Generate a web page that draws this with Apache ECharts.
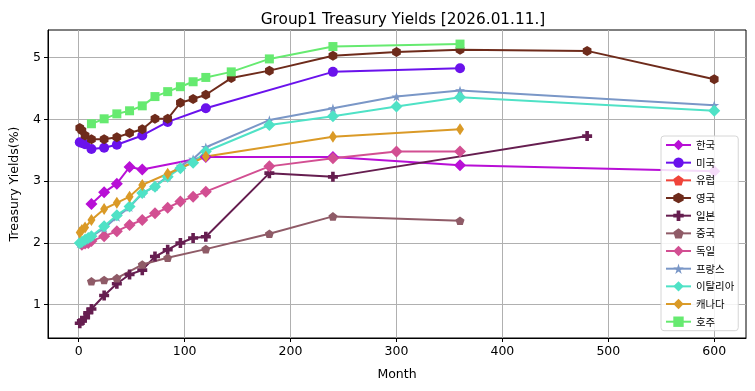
<!DOCTYPE html>
<html>
<head>
<meta charset="utf-8">
<script src="https://cdn.jsdelivr.net/npm/echarts@6/dist/echarts.min.js"></script>
<style>
html,body{margin:0;padding:0;background:#fff;}
#chart{width:755px;height:391px;}
</style>
</head>
<body>
<div id="chart"></div>
<script>
// ---- data ----
const titleText = 'Group1 Treasury Yields [2026.01.11.]';
const xTicks = [0, 100, 200, 300, 400, 500, 600];
const yTicks = [1, 2, 3, 4, 5];

const krMonths = [12, 24, 36, 48, 60, 120, 240, 360, 600];
const krYields = [2.63, 2.82, 2.96, 3.23, 3.19, 3.39, 3.39, 3.26, 3.16];

const usMonths = [1, 3, 6, 12, 24, 36, 60, 84, 120, 240, 360];
const usYields = [3.63, 3.62, 3.60, 3.52, 3.54, 3.59, 3.74, 3.96, 4.18, 4.77, 4.83];

const euMonths = [];
const euYields = [];

const ukMonths = [1, 3, 6, 12, 24, 36, 48, 60, 72, 84, 96, 108, 120, 144, 180, 240, 300, 360, 480, 600];
const ukYields = [3.86, 3.82, 3.74, 3.68, 3.68, 3.71, 3.78, 3.84, 4.01, 4.01, 4.27, 4.33, 4.40, 4.67, 4.79, 5.03, 5.09, 5.13, 5.11, 4.65];

const jpMonths = [1, 3, 6, 9, 12, 24, 36, 48, 60, 72, 84, 96, 108, 120, 180, 240, 480];
const jpYields = [0.70, 0.74, 0.79, 0.87, 0.93, 1.15, 1.34, 1.49, 1.56, 1.78, 1.89, 2.00, 2.08, 2.10, 3.13, 3.07, 3.73];

const cnMonths = [12, 24, 36, 60, 84, 120, 180, 240, 360];
const cnYields = [1.38, 1.40, 1.43, 1.65, 1.76, 1.90, 2.15, 2.43, 2.36];

const deMonths = [3, 6, 9, 12, 24, 36, 48, 60, 72, 84, 96, 108, 120, 180, 240, 300, 360];
const deYields = [1.97, 1.99, 2.00, 2.03, 2.11, 2.19, 2.29, 2.37, 2.48, 2.57, 2.67, 2.75, 2.83, 3.24, 3.37, 3.48, 3.48];

const frMonths = [1, 3, 6, 9, 12, 24, 36, 48, 60, 72, 84, 96, 108, 120, 180, 240, 300, 360, 600];
const frYields = [1.99, 2.01, 2.04, 2.07, 2.10, 2.24, 2.42, 2.58, 2.80, 2.92, 3.08, 3.25, 3.36, 3.55, 3.99, 4.18, 4.37, 4.47, 4.23];

const itMonths = [1, 3, 6, 9, 12, 24, 36, 48, 60, 72, 84, 96, 108, 120, 180, 240, 300, 360, 600];
const itYields = [2.00, 2.02, 2.05, 2.08, 2.11, 2.27, 2.45, 2.59, 2.81, 2.91, 3.07, 3.21, 3.30, 3.48, 3.91, 4.05, 4.21, 4.36, 4.14];

const caMonths = [1, 3, 6, 12, 24, 36, 48, 60, 84, 120, 240, 360];
const caYields = [2.17, 2.21, 2.25, 2.37, 2.55, 2.65, 2.75, 2.94, 3.12, 3.40, 3.72, 3.84];

const auMonths = [12, 24, 36, 48, 60, 72, 84, 96, 108, 120, 144, 180, 240, 360];
const auYields = [3.93, 4.01, 4.09, 4.14, 4.22, 4.37, 4.45, 4.53, 4.61, 4.68, 4.77, 4.98, 5.18, 5.22];

const seriesNames = ['한국', '미국', '유럽', '영국', '일본', '중국', '독일', '프랑스', '이탈리아', '캐나다', '호주'];

// ---- styles ----
const HEX = 'path://M0,-1L0.866,-0.5L0.866,0.5L0,1L-0.866,0.5L-0.866,-0.5Z';
const PENT = 'path://M0,-1L0.951,-0.309L0.588,0.809L-0.588,0.809L-0.951,-0.309Z';
const PLUS = 'path://M-1,-0.36L-0.36,-0.36L-0.36,-1L0.36,-1L0.36,-0.36L1,-0.36L1,0.36L0.36,0.36L0.36,1L-0.36,1L-0.36,0.36L-1,0.36Z';
const STAR = 'path://M0,-1L0.2245,-0.309L0.951,-0.309L0.363,0.118L0.588,0.809L0,0.382L-0.588,0.809L-0.363,0.118L-0.951,-0.309L-0.2245,-0.309Z';

const styles = [
  {color: '#b80fd6', symbol: 'diamond', size: 12},
  {color: '#6a12ec', symbol: 'circle', size: 10},
  {color: '#f0443a', symbol: PENT, size: [10, 9.5]},
  {color: '#6e2b1b', symbol: HEX, size: [8.7, 10]},
  {color: '#661e50', symbol: PLUS, size: 10},
  {color: '#8f5b67', symbol: PENT, size: [9, 8.6]},
  {color: '#d24f92', symbol: 'diamond', size: 12},
  {color: '#7a97c7', symbol: STAR, size: [10, 9.5]},
  {color: '#4fe2c6', symbol: 'diamond', size: 12},
  {color: '#da9a27', symbol: 'diamond', size: [8, 12]},
  {color: '#66ea70', symbol: 'rect', size: 9}
];

const monthsList = [krMonths, usMonths, euMonths, ukMonths, jpMonths, cnMonths, deMonths, frMonths, itMonths, caMonths, auMonths];
const yieldsList = [krYields, usYields, euYields, ukYields, jpYields, cnYields, deYields, frYields, itYields, caYields, auYields];

const series = seriesNames.map((name, i) => ({
  name: name,
  type: 'line',
  data: monthsList[i].map((m, j) => [m, yieldsList[i][j]]),
  symbol: styles[i].symbol,
  symbolSize: styles[i].size,
  showAllSymbol: true,
  color: styles[i].color,
  lineStyle: {width: 2, color: styles[i].color},
  itemStyle: {color: styles[i].color, borderWidth: 0},
  emphasis: {disabled: true},
  animation: false
}));

const FONT = 'DejaVu Sans';
const chart = echarts.init(document.getElementById('chart'), null, {renderer: 'canvas'});
chart.setOption({
  backgroundColor: '#fff',
  animation: false,
  title: {
    text: titleText,
    left: 398,
    top: 8,
    textAlign: 'center',
    textStyle: {fontFamily: FONT, fontSize: 15.3, fontWeight: 'normal', color: '#000'}
  },
  grid: {
    left: 48, top: 30, width: 698, height: 308,
    show: true, borderColor: '#000', borderWidth: 1, backgroundColor: 'transparent'
  },
  legend: {
    orient: 'vertical',
    left: 661, top: 136,
    padding: [2.5, 4, 2.5, 4],
    itemWidth: 25, itemHeight: 13, itemGap: 4.67,
    borderColor: '#d6d6d6', borderWidth: 1, borderRadius: 3,
    backgroundColor: 'rgba(255,255,255,0.85)',
    textStyle: {fontFamily: 'Noto Sans CJK KR', fontSize: 10.4, color: '#000', lineHeight: 13},
    data: seriesNames
  },
  xAxis: {
    type: 'value',
    min: -29, max: 630,
    minInterval: 100, maxInterval: 100,
    name: 'Month',
    nameLocation: 'middle',
    nameGap: 30,
    nameTextStyle: {fontFamily: FONT, fontSize: 12.5, color: '#000'},
    axisLine: {show: true, onZero: false, lineStyle: {color: '#000', width: 1}},
    axisTick: {show: true, length: 4, lineStyle: {color: '#000'}, customValues: xTicks},
    axisLabel: {fontFamily: FONT, fontSize: 12.5, color: '#000', margin: 7, customValues: xTicks},
    splitLine: {show: true, lineStyle: {color: '#b0b0b0', width: 1}}
  },
  yAxis: {
    type: 'value',
    min: 0.461, max: 5.448,
    minInterval: 1, maxInterval: 1,
    name: 'Treasury Yields(%)',
    nameLocation: 'middle',
    nameGap: 27,
    nameRotate: 90,
    nameTextStyle: {fontFamily: FONT, fontSize: 12.5, color: '#000'},
    axisLine: {show: true, onZero: false, lineStyle: {color: '#000', width: 1}},
    axisTick: {show: true, length: 4, lineStyle: {color: '#000'}, customValues: yTicks},
    axisLabel: {fontFamily: FONT, fontSize: 12.5, color: '#000', margin: 7, customValues: yTicks},
    splitLine: {show: true, lineStyle: {color: '#b0b0b0', width: 1}}
  },
  series: series
});
</script>
</body>
</html>
